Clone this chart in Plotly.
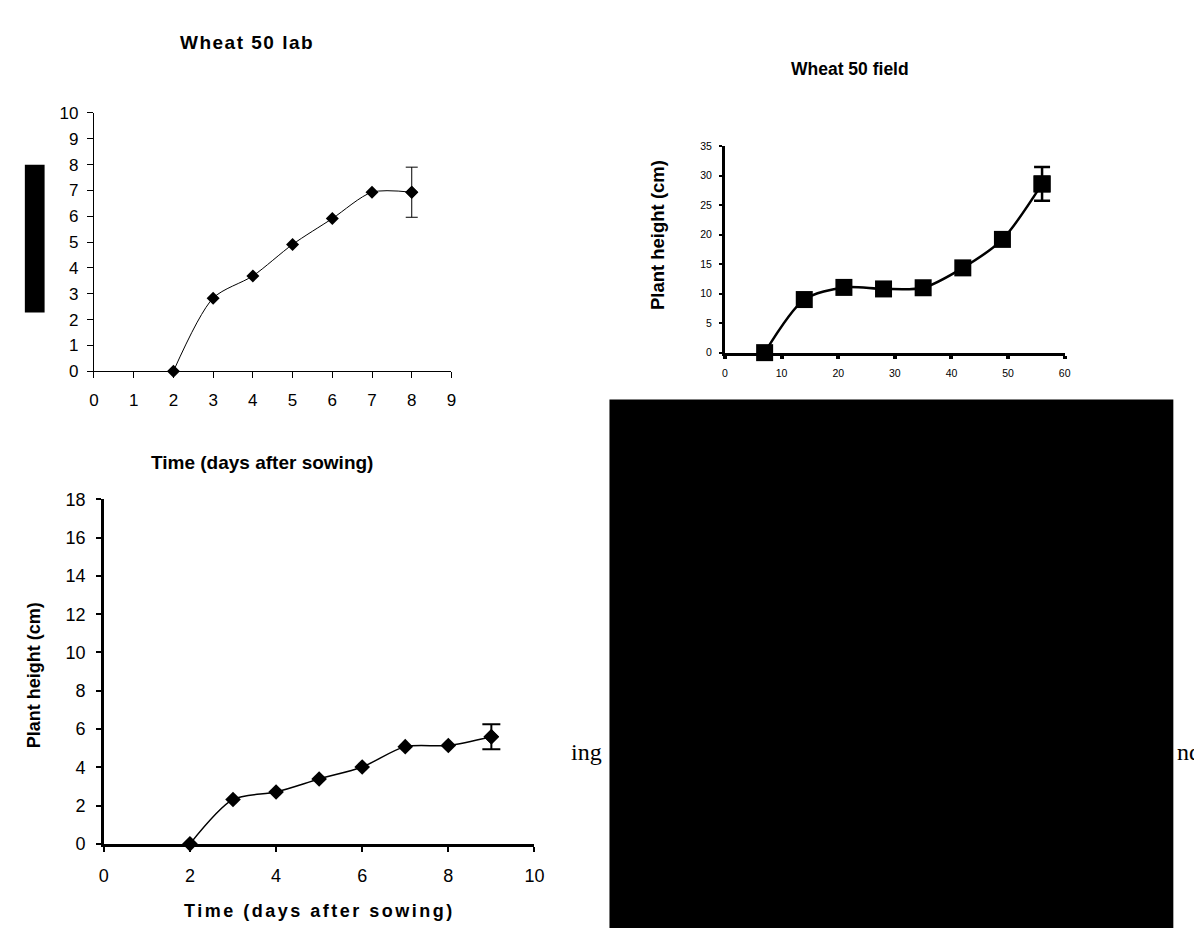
import plotly.graph_objects as go

W, H = 1202, 930

# ---------------- data ----------------
lab_days = [2, 3, 4, 5, 6, 7, 8]
lab_height = [0, 2.83, 3.69, 4.91, 5.91, 6.93, 6.93]
lab_err = 0.97

field_days = [7, 14, 21, 28, 35, 42, 49, 56]
field_height = [0, 9.0, 11.06, 10.8, 11.0, 14.37, 19.2, 28.6]
field_err = 2.85

third_days = [2, 3, 4, 5, 6, 7, 8, 9]
third_height = [0, 2.32, 2.71, 3.39, 4.02, 5.08, 5.14, 5.6]
third_err = 0.65

lab_xticks = list(range(0, 10))
lab_yticks = list(range(0, 11))
field_xticks = [0, 10, 20, 30, 40, 50, 60]
field_yticks = [0, 5, 10, 15, 20, 25, 30, 35]
third_xticks = [0, 2, 4, 6, 8, 10]
third_yticks = [0, 2, 4, 6, 8, 10, 12, 14, 16, 18]


def fx(px):
    return px / W


def fy(py):
    return 1 - py / H


FONT = "Liberation Sans, Arial, sans-serif"
SERIF = "Liberation Serif, Times New Roman, serif"

fig = go.Figure()

# chart 1: Wheat 50 lab
fig.add_trace(go.Scatter(
    x=lab_days, y=lab_height, mode="lines+markers",
    line=dict(color="black", width=1, shape="spline", smoothing=0.8),
    marker=dict(symbol="diamond", size=10, color="black"),
    cliponaxis=False, xaxis="x", yaxis="y", showlegend=False))
fig.add_trace(go.Scatter(
    x=[lab_days[-1]], y=[lab_height[-1]], mode="markers",
    marker=dict(symbol="diamond", size=10, color="black"),
    error_y=dict(type="constant", value=lab_err, color="black", thickness=1, width=6),
    cliponaxis=False, xaxis="x", yaxis="y", showlegend=False))

# chart 2: Wheat 50 field
fig.add_trace(go.Scatter(
    x=field_days, y=field_height, mode="lines+markers",
    line=dict(color="black", width=2.5, shape="spline", smoothing=0.8),
    marker=dict(symbol="square", size=17, color="black"),
    cliponaxis=False, xaxis="x2", yaxis="y2", showlegend=False))
fig.add_trace(go.Scatter(
    x=[field_days[-1]], y=[field_height[-1]], mode="markers",
    marker=dict(symbol="square", size=17, color="black"),
    error_y=dict(type="constant", value=field_err, color="black", thickness=2.5, width=8),
    cliponaxis=False, xaxis="x2", yaxis="y2", showlegend=False))

# chart 3
fig.add_trace(go.Scatter(
    x=third_days, y=third_height, mode="lines+markers",
    line=dict(color="black", width=1.5, shape="spline", smoothing=0.8),
    marker=dict(symbol="diamond", size=12, color="black"),
    cliponaxis=False, xaxis="x3", yaxis="y3", showlegend=False))
fig.add_trace(go.Scatter(
    x=[third_days[-1]], y=[third_height[-1]], mode="markers",
    marker=dict(symbol="diamond", size=12, color="black"),
    error_y=dict(type="constant", value=third_err, color="black", thickness=2, width=9),
    cliponaxis=False, xaxis="x3", yaxis="y3", showlegend=False))


def axis(domain, rng, ticks, lw, tlen, twidth, fsize, standoff, anchor):
    return dict(domain=domain, range=rng, tickvals=ticks, ticktext=[str(t) for t in ticks],
                showgrid=False, zeroline=False, showline=True, linecolor="black",
                linewidth=lw, ticks="outside", ticklen=tlen, tickwidth=twidth,
                tickcolor="black", tickfont=dict(family=FONT, size=fsize, color="black"),
                ticklabelstandoff=standoff, anchor=anchor, fixedrange=True)


fig.update_layout(
    width=W, height=H, autosize=False,
    margin=dict(l=0, r=0, t=0, b=0),
    paper_bgcolor="white", plot_bgcolor="rgba(0,0,0,0)",
    xaxis=axis([fx(82), fx(444)], [0, 9], lab_xticks, 1.3, 6, 1.3, 17, 7, "y"),
    yaxis=axis([fy(361), fy(97)], [0, 10], lab_yticks, 1.3, 6, 1.3, 17, 5, "x"),
    xaxis2=axis([fx(721), fx(1065)], [0, 60], field_xticks, 3, 3, 4, 10.5, 6, "y2"),
    yaxis2=axis([fy(342), fy(131)], [0, 35], field_yticks, 3, 3, 2, 10.5, 5, "x2"),
    xaxis3=axis([fx(92), fx(528)], [0, 10], third_xticks, 2.5, 5, 2, 18, 9, "y3"),
    yaxis3=axis([fy(844), fy(492)], [0, 18], third_yticks, 2.5, 5, 2, 18, 7, "x3"),
)

annotations = [
    dict(text='<b><span style="letter-spacing:1.5px">Wheat 50 lab</span></b>', x=fx(237), y=fy(25),
         font=dict(family=FONT, size=19, color="black")),
    dict(text="<b>Wheat 50 field</b>", x=fx(848), y=fy(52),
         font=dict(family=FONT, size=17.5, color="black")),
    dict(text="<b>Plant height (cm)</b>", x=fx(652), y=fy(222), textangle=-90,
         font=dict(family=FONT, size=18.5, color="black")),
    dict(text="<b>Time (days after sowing)</b>", x=fx(252), y=fy(454),
         font=dict(family=FONT, size=19, color="black")),
    dict(text="<b>Plant height (cm)</b>", x=fx(21), y=fy(672), textangle=-90,
         font=dict(family=FONT, size=18, color="black")),
    dict(text='<b><span style="letter-spacing:2.5px">Time (days after sowing)</span></b>',
         x=fx(310), y=fy(913), font=dict(family=FONT, size=18, color="black")),
    dict(text="ing", x=fx(563), y=fy(750), xanchor="left",
         font=dict(family=SERIF, size=24, color="black")),
    dict(text="nd", x=fx(1177), y=fy(750), xanchor="left",
         font=dict(family=SERIF, size=24, color="black")),
]
for a in annotations:
    a.setdefault("xanchor", "center")
    a.update(xref="paper", yref="paper", yanchor="middle", showarrow=False)
fig.update_layout(annotations=annotations)

fig.update_layout(shapes=[
    dict(type="rect", xref="paper", yref="paper", x0=fx(12), x1=fx(32), y0=fy(301), y1=fy(150),
         fillcolor="black", line=dict(width=0), layer="above"),
    dict(type="rect", xref="paper", yref="paper", x0=fx(604), x1=fx(1175), y0=0, y1=fy(390),
         fillcolor="black", line=dict(width=0), layer="above"),
])

fig.write_html("out.html")
